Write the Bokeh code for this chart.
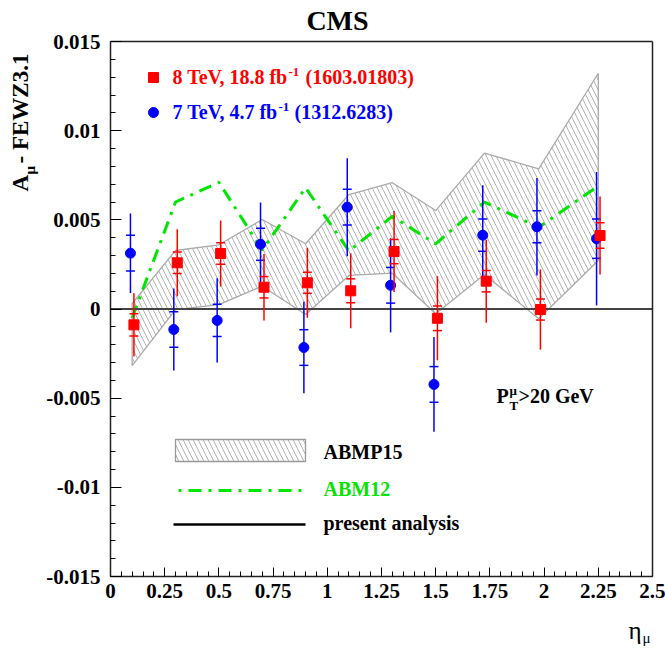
import numpy as np
from math import pi
from bokeh.plotting import figure
from bokeh.models import Range1d, FixedTicker, Label, LinearAxis
from bokeh.embed import file_html
from bokeh.resources import INLINE

# ---------------- data ----------------
eta_bins = [0.1, 0.3, 0.5, 0.7, 0.9, 1.1, 1.3, 1.5, 1.725, 1.975, 2.25]

# 8 TeV, 18.8 fb-1 (1603.01803)
a8 = [-0.00089, 0.00259, 0.00311, 0.00122, 0.00147, 0.00102, 0.00322, -0.00052, 0.00156, -0.00003, 0.00412]
a8_stat = [0.00062, 0.0006, 0.0006, 0.0006, 0.00059, 0.00067, 0.00068, 0.00069, 0.0006, 0.00059, 0.00071]
a8_tot = [0.00178, 0.00188, 0.00185, 0.00186, 0.00196, 0.0021, 0.00227, 0.00236, 0.00233, 0.00225, 0.00219]

# 7 TeV, 4.7 fb-1 (1312.6283)
a7 = [0.00313, -0.00115, -0.00064, 0.00363, -0.00216, 0.00571, 0.00133, -0.00423, 0.00414, 0.00461, 0.00394]
a7_stat = [0.001, 0.001, 0.0009, 0.0009, 0.001, 0.001, 0.001, 0.001, 0.0009, 0.0009, 0.0011]
a7_tot = [0.00223, 0.0023, 0.00236, 0.00234, 0.00257, 0.00275, 0.00264, 0.00266, 0.0028, 0.00273, 0.00374]

# ABMP15 band
abmp15_hi = [0.00031, 0.00328, 0.0036, 0.00502, 0.00366, 0.00642, 0.00708, 0.00552, 0.00874, 0.00786, 0.01322]
abmp15_lo = [-0.00317, -0.00004, 0.00025, 0.00128, -0.00031, 0.00188, 0.00201, -0.00027, 0.00193, -0.00055, 0.00272]

# ABM12
abm12 = [-0.0005, 0.0060, 0.0071, 0.0033, 0.0068, 0.00325, 0.0052, 0.00365, 0.0060, 0.00458, 0.0069]

x_ticks = [0.0, 0.25, 0.5, 0.75, 1.0, 1.25, 1.5, 1.75, 2.0, 2.25, 2.5]
x_tick_labels = ["0", "0.25", "0.5", "0.75", "1", "1.25", "1.5", "1.75", "2", "2.25", "2.5"]
y_ticks = [-0.015, -0.01, -0.005, 0.0, 0.005, 0.01, 0.015]
y_tick_labels = ["-0.015", "-0.01", "-0.005", "0", "0.005", "0.01", "0.015"]

# ---------------- layout ----------------
W, H = 665, 650
FL, FR, FT, FB = 110, 652, 41, 576  # plotting box edges in canvas px
X0, X1 = x_ticks[0], x_ticks[-1]
Y0, Y1 = y_ticks[0], y_ticks[-1]
sx = (FR - FL) / (X1 - X0)
sy = (FB - FT) / (Y1 - Y0)


def dx(px):
    return X0 + (px - FL) / sx


def dy(py):
    return Y1 - (py - FT) / sy


SERIF = "Liberation Serif"
RED = "#ff0000"
BLUE = "#0000ff"
GREEN = "#00e600"
HATCH = dict(hatch_pattern="\\", hatch_color="#a8a8a8", hatch_weight=0.9, hatch_scale=10)

p = figure(width=W, height=H, x_range=Range1d(dx(0), dx(W)), y_range=Range1d(dy(H), dy(0)),
           output_backend="svg", toolbar_location=None, min_border=0,
           min_border_left=0, min_border_right=0, min_border_top=0, min_border_bottom=0)
p.grid.visible = False
p.outline_line_color = None
p.background_fill_color = "white"
p.border_fill_color = "white"

xa = p.xaxis[0]
ya = p.yaxis[0]
xa.fixed_location = Y0
ya.fixed_location = X0
xa.bounds = (X0, X1)
ya.bounds = (Y0, Y1)
xa.ticker = FixedTicker(ticks=x_ticks, minor_ticks=list(np.round(np.arange(X0, X1 + 1e-6, 0.05), 3)))
ya.ticker = FixedTicker(ticks=y_ticks, minor_ticks=list(np.round(np.arange(Y0, Y1 + 1e-7, 0.001), 4)))
xa.major_label_overrides = dict(zip(x_ticks, x_tick_labels))
ya.major_label_overrides = dict(zip(y_ticks, y_tick_labels))
for ax in (xa, ya):
    ax.major_tick_out = 0
    ax.minor_tick_out = 0
    ax.axis_line_width = 1.5
    ax.axis_line_color = "#222222"
    ax.major_tick_line_width = 1
    ax.minor_tick_line_width = 1
    ax.major_label_text_font = SERIF
    ax.major_label_text_font_style = "bold"
    ax.major_label_text_font_size = "21px"
    ax.major_label_text_color = "black"
xa.major_tick_in = 9
xa.minor_tick_in = 5
ya.major_tick_in = 11
ya.minor_tick_in = 5
xa.major_label_standoff = 7
ya.major_label_standoff = 10

# top and right frame lines
ra = LinearAxis(fixed_location=X1, bounds=(Y0, Y1), ticker=FixedTicker(ticks=[]),
                axis_line_width=1.5, axis_line_color="#222222",
                major_tick_in=0, major_tick_out=0, minor_tick_in=0, minor_tick_out=0)
ta = LinearAxis(fixed_location=Y1, bounds=(X0, X1), ticker=FixedTicker(ticks=[]),
                axis_line_width=1.5, axis_line_color="#222222",
                major_tick_in=0, major_tick_out=0, minor_tick_in=0, minor_tick_out=0)
p.add_layout(ra, "right")
p.add_layout(ta, "above")

# ABMP15 band
band_x = eta_bins + eta_bins[::-1]
band_y = abmp15_hi + abmp15_lo[::-1]
p.patch(band_x, band_y, fill_alpha=0, line_color="#aaaaaa", line_width=1.3, **HATCH)

# ABM12
p.line(eta_bins, abm12, line_color=GREEN, line_width=3, line_dash="13 7 3 7")

# present analysis: zero reference line
p.segment(x0=[X0], x1=[X1], y0=[0], y1=[0], line_color="#444444", line_width=2)

# data points
x8 = [e + 0.008 for e in eta_bins]
x7 = [e - 0.008 for e in eta_bins]


def points(xs, ys, stat, tot, color, marker):
    p.segment(xs, [y - t for y, t in zip(ys, tot)], xs, [y + t for y, t in zip(ys, tot)],
              line_color=color, line_width=1.5)
    p.scatter(xs + xs, [y - s for y, s in zip(ys, stat)] + [y + s for y, s in zip(ys, stat)],
              marker="dash", size=9, line_color=color, line_width=1.5)
    p.scatter(xs, ys, marker=marker, size=10, fill_color=color, line_color=color)


points(x7, a7, a7_stat, a7_tot, BLUE, "circle")
points(x8, a8, a8_stat, a8_tot, RED, "square")

BASE_CORR = 0.42  # renderer places alphabetic baselines this many em lower


def lab(px, py, text, size, color="black", style="bold", xo=0, rotated=False, align="left"):
    """Text with its baseline start at canvas pixel (px, py)."""
    shift = BASE_CORR * size
    if rotated:
        x, y, angle = dx(px - shift), dy(py), pi / 2
    else:
        x, y, angle = dx(px), dy(py - shift), 0
    p.add_layout(Label(x=x, y=y, text=text, x_offset=xo, angle=angle, text_font=SERIF,
                       text_font_style=style, text_font_size=f"{size}px", text_color=color,
                       text_align=align, text_baseline="alphabetic"))


# title
lab(337, 32, "CMS", 28, align="center")

# y-axis title
lab(30, 191, "A", 23, rotated=True)
lab(36, 174, "\u03bc", 15, rotated=True)
lab(30, 163, "- FEWZ3.1", 23, rotated=True)

# x-axis title
lab(628, 640, "\u03b7", 25, style="normal")
lab(642, 644, "\u03bc", 15, style="normal")

# top legend
p.scatter([dx(153)], [dy(77)], marker="square", size=10, fill_color=RED, line_color=RED)
lab(172, 85, "8 TeV, 18.8 fb", 20, RED)
lab(172, 77, "-1", 13, RED, xo=116)
lab(172, 85, "(1603.01803)", 20, RED, xo=133)

p.scatter([dx(153)], [dy(112)], marker="circle", size=10, fill_color=BLUE, line_color=BLUE)
lab(172, 120, "7 TeV, 4.7 fb", 20, BLUE)
lab(172, 112, "-1", 13, BLUE, xo=106)
lab(172, 120, "(1312.6283)", 20, BLUE, xo=122)

# pT cut
lab(496, 404, "P", 20)
lab(496, 395, "\u03bc", 13, xo=13)
lab(496, 410, "T", 13, xo=13)
lab(496, 404, ">20 GeV", 20, xo=22)

# bottom legend
p.quad(left=[dx(175)], right=[dx(305)], top=[dy(439)], bottom=[dy(461)], fill_alpha=0,
       line_color="#999999", line_width=1.3, **HATCH)
lab(323, 460, "ABMP15", 20)
p.line([dx(178), dx(305)], [dy(490), dy(490)], line_color=GREEN, line_width=3, line_dash="3 7 13 7")
lab(323, 497, "ABM12", 20, GREEN)
p.line([dx(173), dx(305)], [dy(524), dy(524)], line_color="black", line_width=2.5)
lab(323, 531, "present analysis", 20)

open("out.html", "w").write(file_html(p, INLINE))
